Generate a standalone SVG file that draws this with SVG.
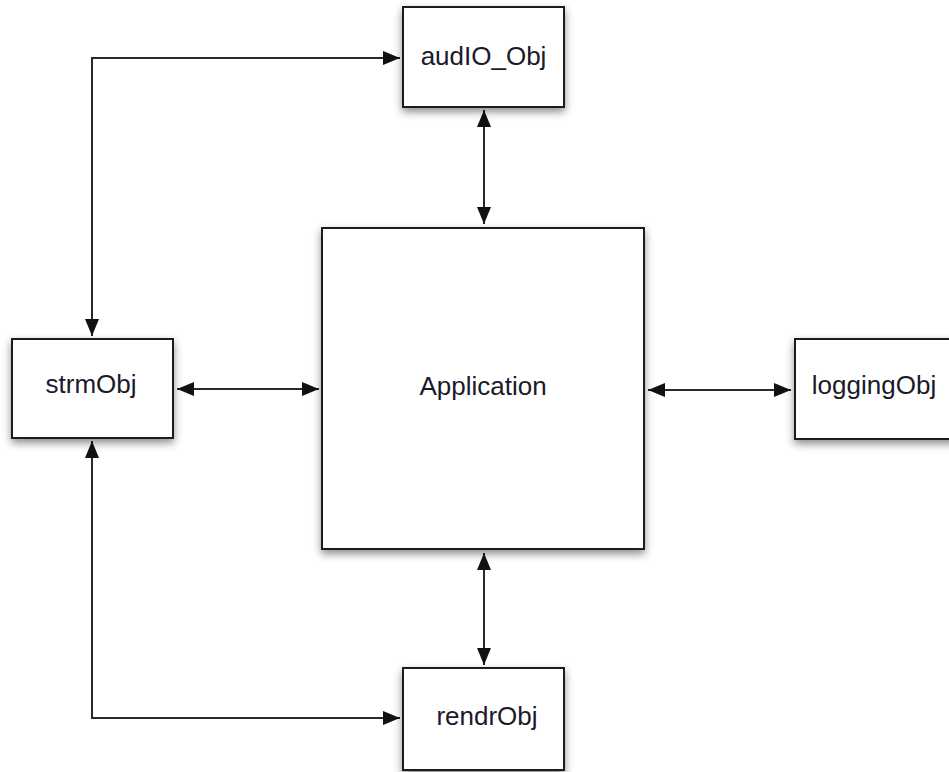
<svg xmlns="http://www.w3.org/2000/svg" width="949" height="772" viewBox="0 0 949 772">
  <defs>
    <filter id="shadow" x="-20%" y="-20%" width="140%" height="150%">
      <feDropShadow dx="0" dy="4" stdDeviation="4" flood-color="#000" flood-opacity="0.45"/>
    </filter>
    <marker id="ah" markerUnits="userSpaceOnUse" markerWidth="18" markerHeight="15" refX="17" refY="7" orient="auto-start-reverse" viewBox="0 0 18 14">
      <path d="M0,0 L17,7 L0,14 Z" fill="#111"/>
    </marker>
    <style>
      .box { fill: #fff; stroke: #1a1a1a; stroke-width: 2; filter: url(#shadow); }
      .lbl { font-family: "Liberation Sans", Arial, Helvetica, sans-serif; font-size: 26px; fill: #1a1a2a; text-anchor: middle; }
      .conn { fill: none; stroke: #2a2a2a; stroke-width: 2; marker-start: url(#ah); marker-end: url(#ah); }
    </style>
  </defs>
  <rect width="949" height="772" fill="#fff"/>

  <g id="connectors">
    <path class="conn" d="M92,336 V58 H400"/>
    <path class="conn" d="M92,441 V718 H400"/>
    <path class="conn" d="M177,389 H319"/>
    <path class="conn" d="M648,390 H791"/>
    <path class="conn" d="M484,110 V224"/>
    <path class="conn" d="M484,553 V665"/>
  </g>

  <g id="audIO_Obj">
    <rect class="box" x="403" y="7" width="161" height="100"/>
    <text class="lbl" x="483.5" y="65">audIO_Obj</text>
  </g>
  <g id="Application">
    <rect class="box" x="322" y="228" width="322" height="321"/>
    <text class="lbl" x="483" y="395">Application</text>
  </g>
  <g id="strmObj">
    <rect class="box" x="12" y="339" width="161" height="99"/>
    <text class="lbl" x="91" y="393">strmObj</text>
  </g>
  <g id="loggingObj">
    <rect class="box" x="795" y="339" width="161" height="100"/>
    <text class="lbl" x="874" y="394">loggingObj</text>
  </g>
  <g id="rendrObj">
    <rect class="box" x="403" y="668" width="161" height="102"/>
    <text class="lbl" x="487" y="725">rendrObj</text>
  </g>
</svg>
